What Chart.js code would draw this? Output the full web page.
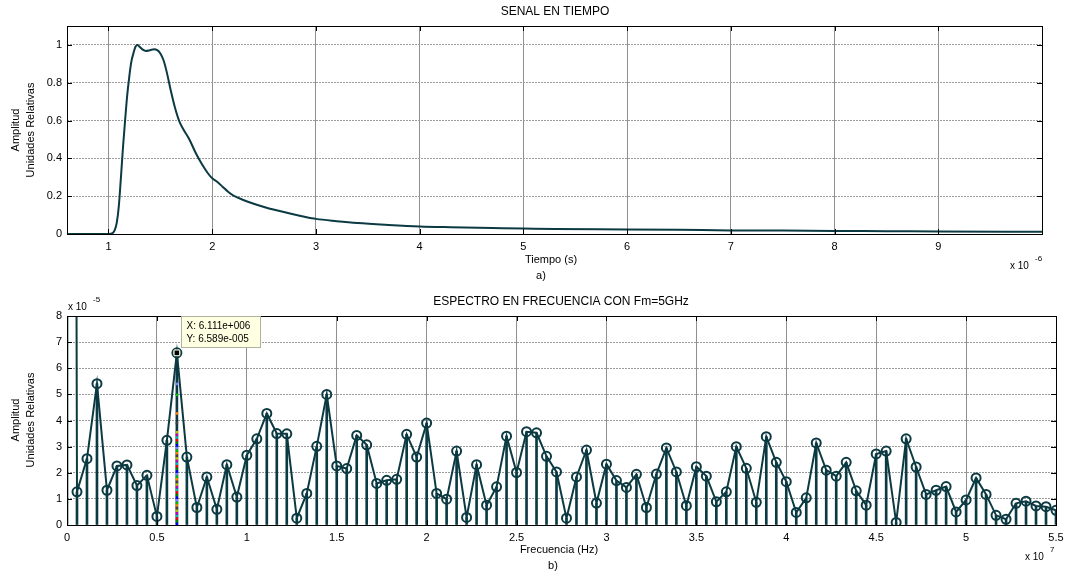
<!DOCTYPE html>
<html>
<head>
<meta charset="utf-8">
<script src="https://cdn.jsdelivr.net/npm/chart.js@4/dist/chart.umd.min.js"></script>
<style>
  html, body { margin: 0; padding: 0; background: #fff; }
  #wrap { position: relative; width: 1066px; height: 576px; }
  canvas { position: absolute; left: 0; }
</style>
</head>
<body>
<div id="wrap">
  <canvas id="senal" width="1066" height="288" style="top:0;width:1066px;height:288px"></canvas>
  <canvas id="espectro" width="1066" height="288" style="top:288px;width:1066px;height:288px"></canvas>
</div>
<script>
// ---- Señal en el tiempo (tiempo en microsegundos, amplitud normalizada) ----
const tiempoUs = [0.6, 1.0, 1.04, 1.06, 1.08, 1.10, 1.12, 1.14, 1.16, 1.18, 1.20, 1.22, 1.24, 1.26, 1.28,
  1.30, 1.33, 1.36, 1.40, 1.44, 1.47, 1.50, 1.53, 1.56, 1.60, 1.64, 1.68, 1.72, 1.78, 1.84, 1.90,
  1.96, 2.00, 2.05, 2.10, 2.15, 2.20, 2.30, 2.40, 2.50, 2.60, 2.75, 2.90, 3.0, 3.2, 3.4, 3.7, 4.0,
  4.3, 4.7, 5.0, 5.3, 6.0, 6.5, 7.0, 7.5, 8.0, 8.5, 9.0, 10.0];
const amplitudTiempo = [0, 0, 0.005, 0.02, 0.06, 0.15, 0.30, 0.46, 0.60, 0.73, 0.83, 0.91, 0.955, 0.99, 1.0,
  0.99, 0.975, 0.968, 0.972, 0.977, 0.972, 0.955, 0.92, 0.86, 0.76, 0.67, 0.60, 0.555, 0.50, 0.43, 0.37,
  0.32, 0.295, 0.275, 0.25, 0.225, 0.205, 0.18, 0.16, 0.143, 0.128, 0.108, 0.09, 0.08, 0.068, 0.058, 0.048, 0.04,
  0.036, 0.032, 0.029, 0.026, 0.024, 0.022, 0.019, 0.018, 0.016, 0.015, 0.013, 0.012];
const ticksTiempo = [1, 2, 3, 4, 5, 6, 7, 8, 9];
const ticksAmpTiempo = [0, 0.2, 0.4, 0.6, 0.8, 1];

// ---- Espectro: magnitud por bin de la FFT, en unidades de 1e-5 ----
const FM = 5e9;      // frecuencia de muestreo (Hz)
const NFFT = 9000;   // puntos de la transformada
const espectroE5 = [150, 1.27, 2.54, 5.41, 1.33, 2.26, 2.30, 1.51, 1.90, 0.33,
  3.24, 6.589, 2.60, 0.67, 1.84, 0.60, 2.31, 1.07, 2.67, 3.30,
  4.27, 3.50, 3.49, 0.26, 1.21, 3.01, 5.00, 2.26, 2.16, 3.43,
  3.07, 1.59, 1.71, 1.75, 3.47, 2.60, 3.90, 1.21, 0.99, 2.83,
  0.29, 2.31, 0.76, 1.46, 3.40, 2.01, 3.57, 3.53, 2.63, 2.03,
  0.26, 1.84, 2.87, 0.84, 2.33, 1.70, 1.44, 1.94, 0.67, 1.95,
  2.95, 2.03, 0.74, 2.23, 1.87, 0.89, 1.27, 3.00, 2.17, 0.87,
  3.38, 2.40, 1.66, 0.48, 1.04, 3.14, 2.10, 1.87, 2.40, 1.31,
  0.76, 2.72, 2.83, 0.10, 3.30, 2.22, 1.17, 1.33, 1.47, 0.50,
  0.96, 1.80, 1.17, 0.37, 0.22, 0.83, 0.91, 0.73, 0.70, 0.56];
const ticksFrecuencia = [0, 0.5e7, 1e7, 1.5e7, 2e7, 2.5e7, 3e7, 3.5e7, 4e7, 4.5e7, 5e7, 5.5e7];
const ticksAmpEspectro = [0, 1, 2, 3, 4, 5, 6, 7, 8];

// Cursor de datos sobre el pico y el rastro de marcas que deja sobre su tallo
const indiceCursor = 11;
const rastroAlturas = [0.05, 0.15, 0.25, 0.35, 0.45, 0.55, 0.65, 0.75, 0.85, 0.95, 1.05, 1.15, 1.25, 1.35,
  1.45, 1.55, 1.65, 1.75, 1.85, 1.95, 2.05, 2.15, 2.25, 2.35, 2.45, 2.55, 2.65, 2.75, 2.85, 2.95,
  3.05, 3.15, 3.25, 3.35, 3.45, 3.55, 3.90, 4.27, 4.98, 5.40];
const paletaRastro = ['#0000ff', '#008000', '#ff0000', '#00bfbf', '#bf00bf', '#bfbf00', '#404040',
  '#ff8000', '#00c000', '#8080ff'];

const FONT = '"Liberation Sans", Arial, Helvetica, sans-serif';
const COLOR_LINEA = '#0b3a42';
const frecuencias = espectroE5.map((_, k) => k * FM / NFFT);

function formatoMatlab(v) {
  return v.toExponential(3).replace(/e([+-])(\d+)$/, (m, s, d) => 'e' + s + d.padStart(3, '0'));
}

// Marco de ejes, marcas de graduación hacia dentro y textos fijos
const marco = {
  id: 'marco',
  afterDatasetsDraw(chart, args, opts) {
    const ctx = chart.ctx;
    const a = chart.chartArea;
    const sx = chart.scales.x, sy = chart.scales.y;
    ctx.save();
    ctx.strokeStyle = '#000';
    ctx.lineWidth = 1;
    ctx.beginPath();
    sx.ticks.forEach(t => {
      const px = Math.round(sx.getPixelForValue(t.value)) + 0.5;
      ctx.moveTo(px, a.bottom); ctx.lineTo(px, a.bottom - 5);
      ctx.moveTo(px, a.top); ctx.lineTo(px, a.top + 5);
    });
    sy.ticks.forEach(t => {
      const py = Math.round(sy.getPixelForValue(t.value)) + 0.5;
      ctx.moveTo(a.left, py); ctx.lineTo(a.left + 5, py);
      ctx.moveTo(a.right, py); ctx.lineTo(a.right - 5, py);
    });
    ctx.stroke();
    ctx.strokeRect(Math.round(a.left) + 0.5, Math.round(a.top) + 0.5,
      Math.round(a.right - a.left), Math.round(a.bottom - a.top));

    ctx.fillStyle = '#000';
    (opts.textos || []).forEach(t => {
      ctx.save();
      ctx.font = (t.size || 11) + 'px ' + FONT;
      ctx.textAlign = t.align || 'center';
      ctx.textBaseline = 'middle';
      ctx.translate(t.x, t.y);
      if (t.rot) ctx.rotate(t.rot);
      ctx.fillText(t.text, 0, 0);
      ctx.restore();
    });

    // Cuadro del cursor de datos
    if (opts.cursor) {
      const meta = chart.getDatasetMeta(opts.cursor.dataset);
      const p = meta.data[0];
      if (p) {
        const bx = Math.round(p.x) + 4.5, by = Math.round(p.y) - 36.5;
        const w = 79, h = 31;
        ctx.fillStyle = '#ffffe1';
        ctx.fillRect(bx, by, w, h);
        ctx.strokeStyle = '#b0b0a0';
        ctx.strokeRect(bx, by, w, h);
        ctx.fillStyle = '#000';
        ctx.font = '10px ' + FONT;
        ctx.textAlign = 'left';
        ctx.textBaseline = 'middle';
        const d = chart.data.datasets[opts.cursor.dataset].data[0];
        ctx.fillText('X: ' + formatoMatlab(d.x), bx + 5, by + 10);
        ctx.fillText('Y: ' + formatoMatlab(d.y * 1e-5), bx + 5, by + 23);
      }
    }
    ctx.restore();
  }
};

const fuenteTicks = { family: FONT, size: 11 };

// ---------- Gráfica superior: señal en tiempo ----------
new Chart(document.getElementById('senal'), {
  type: 'line',
  data: {
    datasets: [{
      data: tiempoUs.map((t, i) => ({ x: t, y: amplitudTiempo[i] })),
      borderColor: COLOR_LINEA,
      borderWidth: 2,
      pointRadius: 0,
      cubicInterpolationMode: 'monotone',
      fill: false
    }]
  },
  options: {
    responsive: false,
    animation: false,
    devicePixelRatio: 1,
    layout: { padding: { top: 26, right: 24, left: 0, bottom: 0 } },
    plugins: {
      legend: { display: false },
      tooltip: { enabled: false },
      marco: {
        textos: [
          { text: 'SENAL EN TIEMPO', x: 555, y: 12, size: 12 },
          { text: 'Amplitud', x: 16, y: 130, rot: -Math.PI / 2 },
          { text: 'Unidades Relativas', x: 31, y: 130, rot: -Math.PI / 2 },
          { text: 'Tiempo (s)', x: 551, y: 260 },
          { text: 'a)', x: 541, y: 276 },
          { text: 'x 10', x: 1010, y: 266, align: 'left', size: 10 },
          { text: '-6', x: 1035, y: 259, align: 'left', size: 8 }
        ]
      }
    },
    scales: {
      x: {
        type: 'linear', min: 0.6, max: 10,
        afterBuildTicks: s => { s.ticks = ticksTiempo.map(v => ({ value: v })); },
        afterFit: s => { s.height = 54; s.paddingLeft = 0; s.paddingRight = 0; },
        grid: { color: '#8f8f8f', lineWidth: 1, drawTicks: false },
        border: { display: false },
        ticks: { padding: 6, color: '#000', font: fuenteTicks, maxRotation: 0, autoSkip: false,
          callback: v => String(v) }
      },
      y: {
        type: 'linear', min: 0, max: 1.1,
        afterBuildTicks: s => { s.ticks = ticksAmpTiempo.map(v => ({ value: v })); },
        afterFit: s => { s.width = 67; s.paddingTop = 0; s.paddingBottom = 0; },
        grid: { color: '#9c9c9c', lineWidth: 1, drawTicks: false },
        border: { display: false, dash: [2, 1] },
        ticks: { padding: 5, color: '#000', font: fuenteTicks, autoSkip: false,
          callback: v => String(Math.round(v * 10) / 10) }
      }
    }
  },
  plugins: [marco]
});

// ---------- Gráfica inferior: espectro en frecuencia ----------
const puntosEspectro = frecuencias.map((f, k) => ({ x: f, y: espectroE5[k] }));
const fCursor = frecuencias[indiceCursor];

new Chart(document.getElementById('espectro'), {
  type: 'line',
  data: {
    datasets: [
      {
        type: 'bar',
        data: puntosEspectro,
        backgroundColor: COLOR_LINEA,
        barThickness: 2,
        order: 4
      },
      {
        type: 'line',
        data: puntosEspectro,
        borderColor: COLOR_LINEA,
        borderWidth: 2,
        pointRadius: 4.5,
        pointBorderWidth: 2,
        pointBorderColor: COLOR_LINEA,
        pointBackgroundColor: 'rgba(0,0,0,0)',
        fill: false,
        order: 3
      },
      {
        type: 'scatter',
        data: rastroAlturas.map(h => ({ x: fCursor, y: h })),
        pointStyle: 'rect',
        pointRadius: 1.8,
        pointBorderWidth: 0,
        pointBackgroundColor: rastroAlturas.map((_, i) => paletaRastro[i % paletaRastro.length]),
        order: 2
      },
      {
        type: 'scatter',
        data: [{ x: fCursor, y: espectroE5[indiceCursor] }],
        pointStyle: 'rect',
        pointRadius: 4,
        pointBorderWidth: 1,
        pointBorderColor: '#ffffe1',
        pointBackgroundColor: '#000',
        order: 1
      }
    ]
  },
  options: {
    responsive: false,
    animation: false,
    devicePixelRatio: 1,
    layout: { padding: { top: 28, right: 10, left: 0, bottom: 0 } },
    plugins: {
      legend: { display: false },
      tooltip: { enabled: false },
      marco: {
        cursor: { dataset: 3 },
        textos: [
          { text: 'ESPECTRO EN FRECUENCIA CON Fm=5GHz', x: 561, y: 14, size: 12 },
          { text: 'Amplitud', x: 16, y: 132, rot: -Math.PI / 2 },
          { text: 'Unidades Relativas', x: 31, y: 132, rot: -Math.PI / 2 },
          { text: 'Frecuencia (Hz)', x: 559, y: 262 },
          { text: 'b)', x: 553, y: 278 },
          { text: 'x 10', x: 68, y: 19, align: 'left', size: 10 },
          { text: '-5', x: 93, y: 12, align: 'left', size: 8 },
          { text: 'x 10', x: 1025, y: 269, align: 'left', size: 10 },
          { text: '7', x: 1050, y: 262, align: 'left', size: 8 }
        ]
      }
    },
    scales: {
      x: {
        type: 'linear', min: 0, max: 5.5e7, offset: false,
        afterBuildTicks: s => { s.ticks = ticksFrecuencia.map(v => ({ value: v })); },
        afterFit: s => { s.height = 51; s.paddingLeft = 0; s.paddingRight = 0; },
        grid: { color: '#8f8f8f', lineWidth: 1, drawTicks: false, offset: false },
        border: { display: false },
        ticks: { padding: 6, color: '#000', font: fuenteTicks, maxRotation: 0, autoSkip: false,
          callback: v => String(Math.round(v / 1e6) / 10) }
      },
      y: {
        type: 'linear', min: 0, max: 8,
        afterBuildTicks: s => { s.ticks = ticksAmpEspectro.map(v => ({ value: v })); },
        afterFit: s => { s.width = 67; s.paddingTop = 0; s.paddingBottom = 0; },
        grid: { color: '#9c9c9c', lineWidth: 1, drawTicks: false },
        border: { display: false, dash: [2, 1] },
        ticks: { padding: 5, color: '#000', font: fuenteTicks, autoSkip: false,
          callback: v => String(v) }
      }
    }
  },
  plugins: [marco]
});
</script>
</body>
</html>
